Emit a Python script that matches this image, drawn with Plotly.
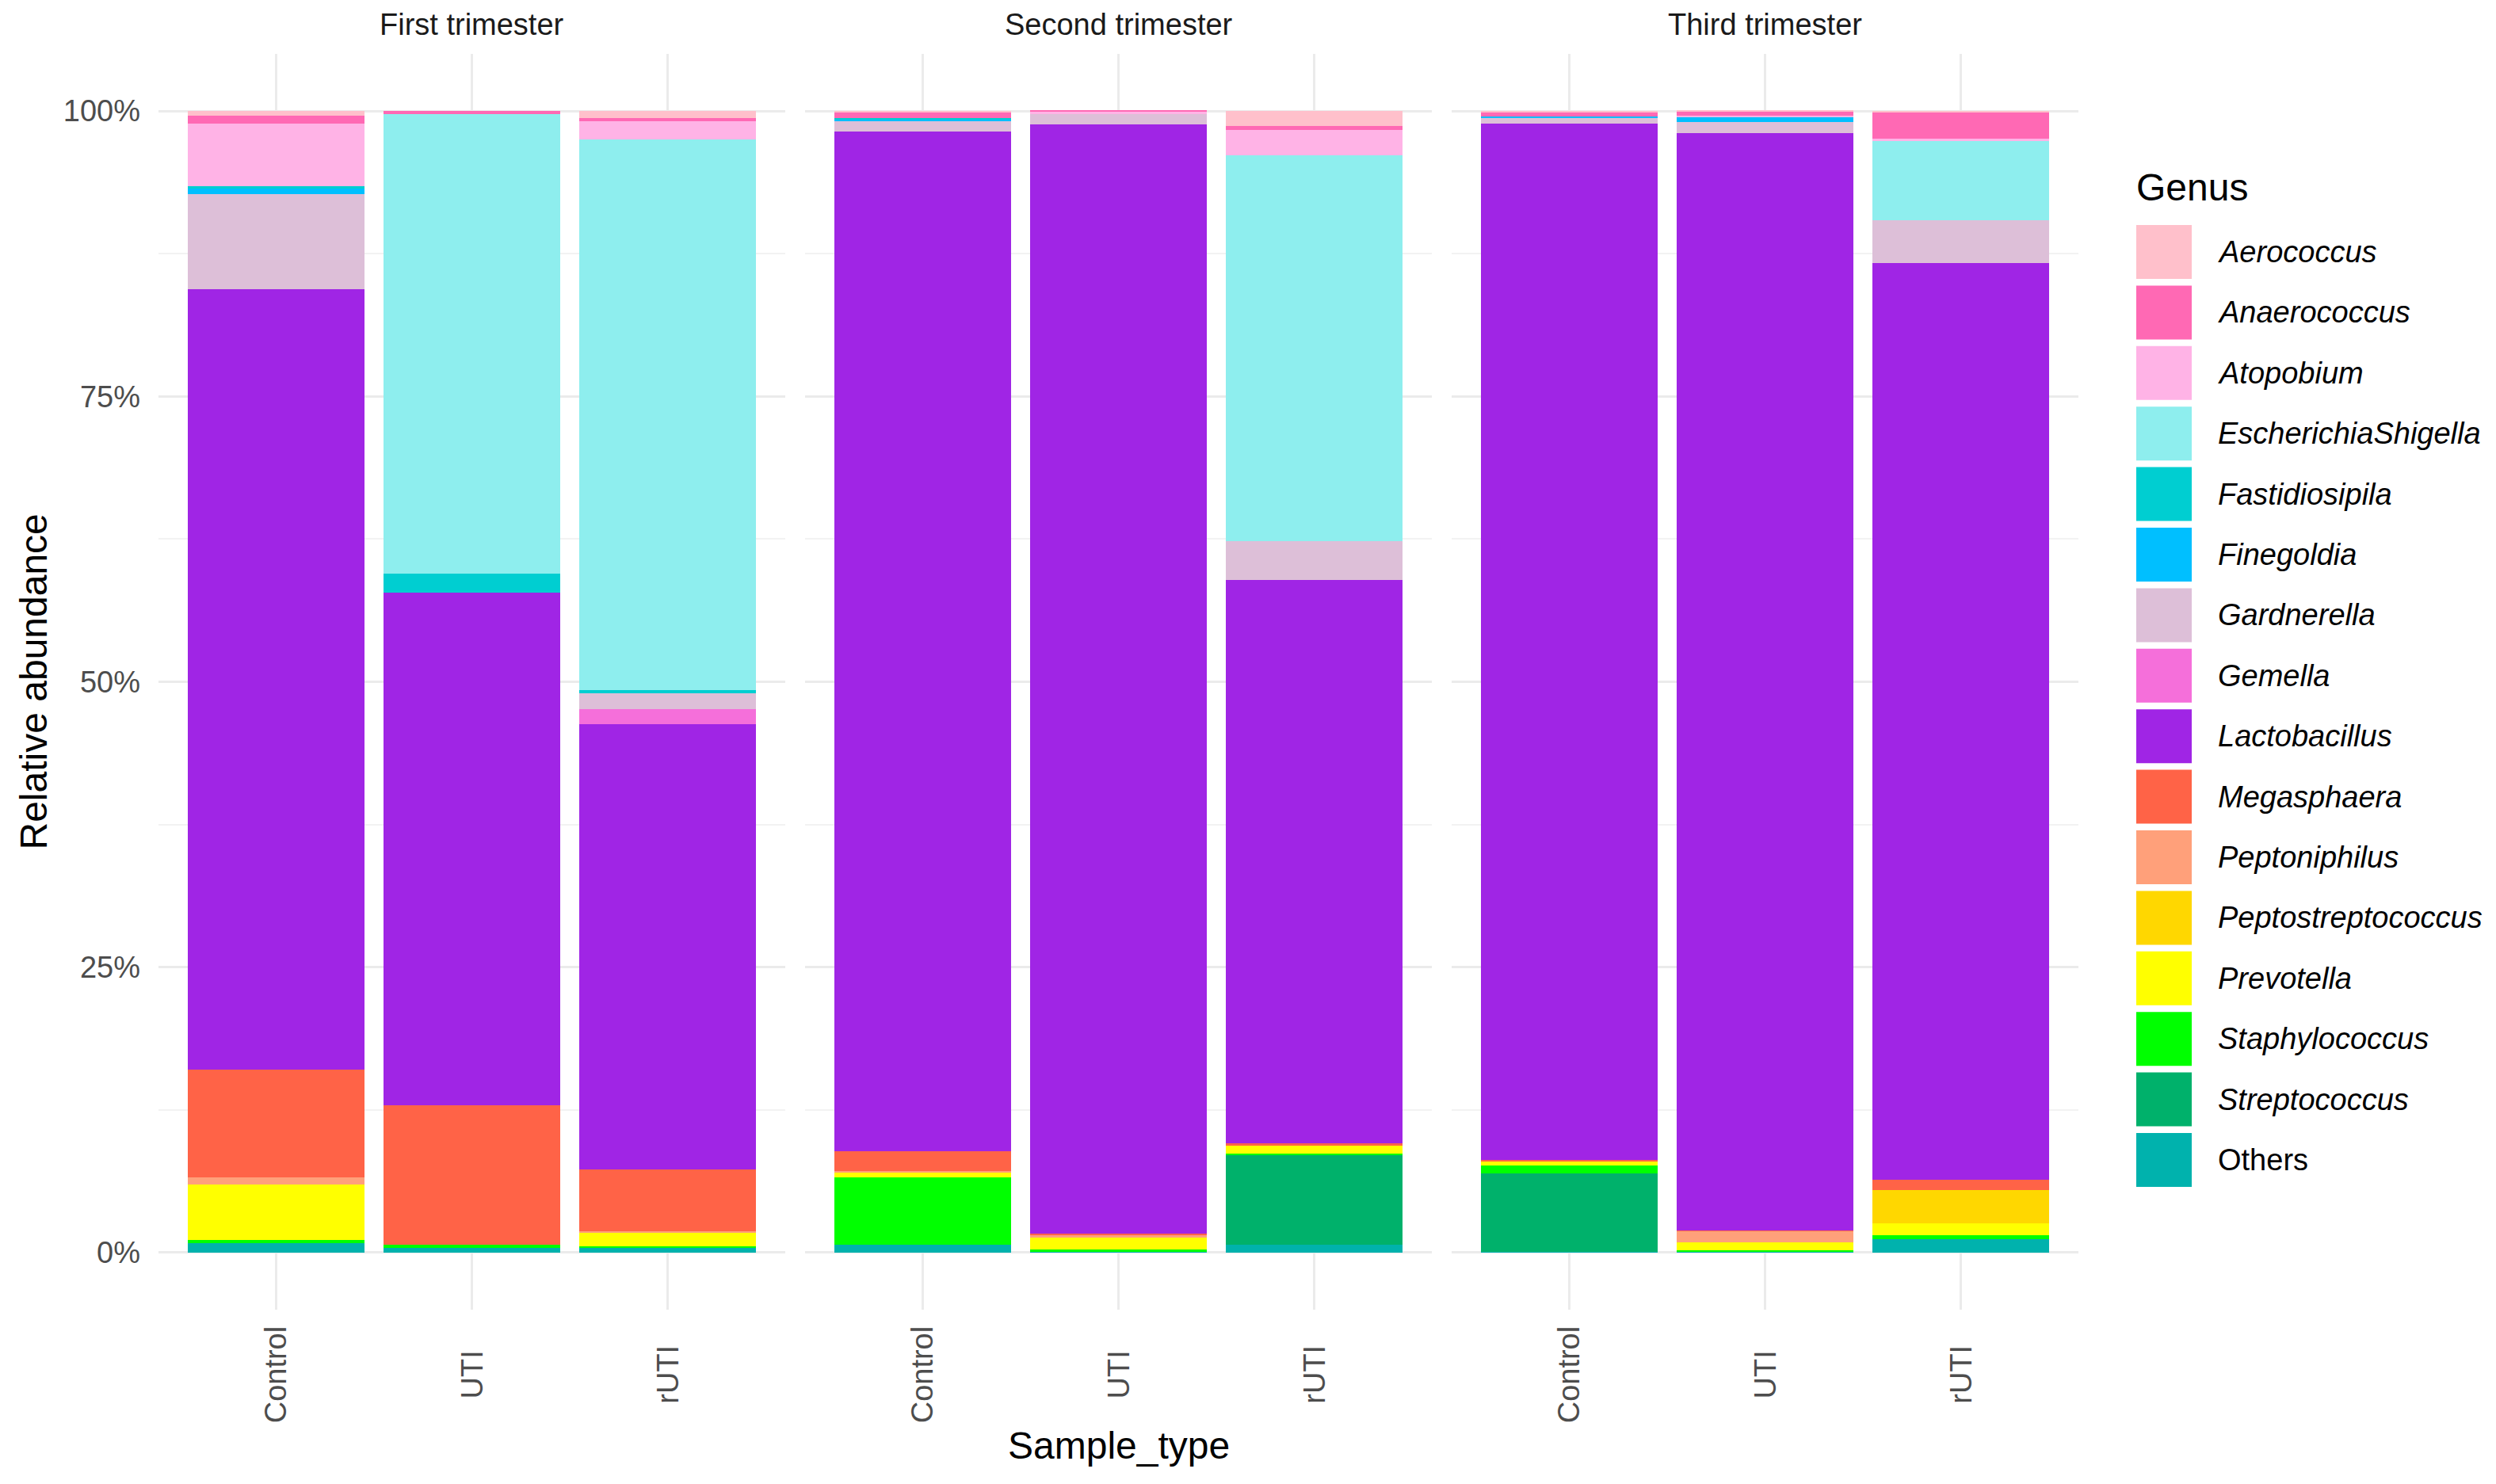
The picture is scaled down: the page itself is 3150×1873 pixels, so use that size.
import plotly.graph_objects as go
from plotly.subplots import make_subplots

# facets and x categories
trimesters = ["First trimester", "Second trimester", "Third trimester"]
sample_types = ["Control", "UTI", "rUTI"]

# relative abundance (%), order: T1 Control, UTI, rUTI, T2 Control, UTI, rUTI, T3 Control, UTI, rUTI
aerococcus = [0.4, 0.0, 0.6, 0.15, 0.0, 1.3, 0.1, 0.1, 0.15]
anaerococcus = [0.7, 0.3, 0.3, 0.5, 0.1, 0.35, 0.35, 0.35, 2.25]
atopobium = [5.5, 0.0, 1.6, 0.0, 0.25, 2.2, 0.0, 0.15, 0.2]
escherichia_shigella = [0.0, 40.2, 48.2, 0.0, 0.0, 33.85, 0.0, 0.0, 7.0]
fastidiosipila = [0.2, 1.7, 0.3, 0.1, 0.0, 0.0, 0.0, 0.0, 0.0]
finegoldia = [0.5, 0.0, 0.0, 0.2, 0.0, 0.0, 0.15, 0.45, 0.0]
gardnerella = [8.3, 0.0, 1.4, 0.9, 0.9, 3.4, 0.5, 0.95, 3.7]
gemella = [0.0, 0.0, 1.3, 0.0, 0.0, 0.0, 0.0, 0.0, 0.0]
lactobacillus = [68.4, 44.9, 39.0, 89.3, 97.2, 49.3, 90.75, 96.1, 80.3]
megasphaera = [9.4, 12.2, 5.4, 1.7, 0.15, 0.2, 0.15, 0.05, 0.9]
peptoniphilus = [0.6, 0.0, 0.15, 0.15, 0.2, 0.0, 0.0, 1.0, 0.0]
peptostreptococcus = [0.0, 0.0, 0.0, 0.0, 0.0, 0.0, 0.0, 0.0, 2.95]
prevotella = [4.9, 0.0, 1.2, 0.45, 1.0, 0.7, 0.35, 0.7, 1.0]
staphylococcus = [0.3, 0.3, 0.1, 5.9, 0.2, 0.2, 0.7, 0.1, 0.35]
streptococcus = [0.0, 0.0, 0.0, 0.0, 0.0, 7.8, 6.85, 0.0, 0.0]
others = [0.8, 0.4, 0.45, 0.67, 0.1, 0.7, 0.1, 0.1, 1.2]

genera = ["Aerococcus", "Anaerococcus", "Atopobium", "EscherichiaShigella",
          "Fastidiosipila", "Finegoldia", "Gardnerella", "Gemella",
          "Lactobacillus", "Megasphaera", "Peptoniphilus", "Peptostreptococcus",
          "Prevotella", "Staphylococcus", "Streptococcus", "Others"]
colors = ["#FFC0CB", "#FF69B4", "#FFB3E6", "#8EEEEE",
          "#00CED1", "#00BFFF", "#DDBFD8", "#F56FDA",
          "#A025E5", "#FF6347", "#FFA07A", "#FFD700",
          "#FFFF00", "#00FF00", "#00B16B", "#00B2AD"]
values = [aerococcus, anaerococcus, atopobium, escherichia_shigella,
          fastidiosipila, finegoldia, gardnerella, gemella,
          lactobacillus, megasphaera, peptoniphilus, peptostreptococcus,
          prevotella, staphylococcus, streptococcus, others]

y_ticks = [0, 25, 50, 75, 100]
y_tick_text = ["0%", "25%", "50%", "75%", "100%"]

FONT = "Liberation Sans, Arial, sans-serif"
W, H = 3150, 1873
OFF = 8  # page body margin
L, R, T, B = 192, 535, 60, 228
PW, PH = W - L - R, H - T - B


def px_x(x):
    return (x - OFF - L) / PW


def px_y(y):
    return (H - B - (y - OFF)) / PH


fig = make_subplots(rows=1, cols=3, shared_yaxes=True,
                    horizontal_spacing=25 / PW, subplot_titles=trimesters)

# stack from the bottom: Others first, Aerococcus last
for name, color, vals in reversed(list(zip(genera, colors, values))):
    for col in range(3):
        fig.add_trace(go.Bar(
            x=sample_types, y=vals[col * 3:col * 3 + 3], name=name,
            marker=dict(color=color, line=dict(width=0)), width=0.9,
            showlegend=False), row=1, col=col + 1)

fig.update_layout(
    barmode="stack", width=W, height=H,
    margin=dict(l=L, r=R, t=T, b=B),
    plot_bgcolor="white", paper_bgcolor="white",
    font=dict(family=FONT, size=38, color="#1A1A1A"),
)

for ann in fig.layout.annotations:
    ann.font = dict(family=FONT, size=38, color="#1A1A1A")
    ann.yshift = 14

fig.update_xaxes(range=[-0.6, 2.6], showticklabels=False, showgrid=True,
                 gridcolor="#EBEBEB", gridwidth=3, zeroline=False, showline=False, ticks="")
fig.update_yaxes(range=[-5, 105], tickmode="array", tickvals=y_ticks, ticktext=y_tick_text,
                 showgrid=True, gridcolor="#EBEBEB", gridwidth=3, zeroline=False,
                 showline=False, ticks="",
                 minor=dict(tickvals=[12.5, 37.5, 62.5, 87.5], showgrid=True,
                            gridcolor="#F2F2F2", gridwidth=2),
                 tickfont=dict(family=FONT, size=38, color="#4D4D4D"))
fig.update_yaxes(ticklabelstandoff=22, row=1, col=1)

# rotated, centered x tick labels
for col in range(3):
    xref = "x" if col == 0 else f"x{col + 1}"
    for s in sample_types:
        fig.add_annotation(x=s, xref=xref, y=px_y(1735), yref="paper", text=s,
                           textangle=-90, showarrow=False, xanchor="center", yanchor="middle",
                           font=dict(family=FONT, size=38, color="#4D4D4D"))

# axis titles
fig.add_annotation(x=0.5, xref="paper", y=px_y(1824), yref="paper", text="Sample_type",
                   xanchor="center", yanchor="middle", showarrow=False,
                   font=dict(family=FONT, size=48, color="black"))
fig.add_annotation(x=px_x(42), xref="paper", y=0.5, yref="paper", text="Relative abundance",
                   textangle=-90, xanchor="center", yanchor="middle", showarrow=False,
                   font=dict(family=FONT, size=48, color="black"))

# legend drawn by hand to get the large ggplot keys
fig.add_annotation(x=px_x(2694), xref="paper", y=px_y(236), yref="paper", text="Genus",
                   xanchor="left", yanchor="middle", showarrow=False,
                   font=dict(family=FONT, size=48, color="black"))
for i, (name, color) in enumerate(zip(genera, colors)):
    yc = 318 + 76.4 * i
    fig.add_shape(type="rect", xref="paper", yref="paper",
                  x0=px_x(2696), x1=px_x(2766), y0=px_y(yc + 34), y1=px_y(yc - 34),
                  fillcolor=color, line=dict(width=0))
    label = name if name == "Others" else f"<i>{name}</i>"
    fig.add_annotation(x=px_x(2797), xref="paper", y=px_y(yc), yref="paper", text=label,
                       xanchor="left", yanchor="middle", showarrow=False,
                       font=dict(family=FONT, size=38, color="black"))

fig.write_html("out.html")
